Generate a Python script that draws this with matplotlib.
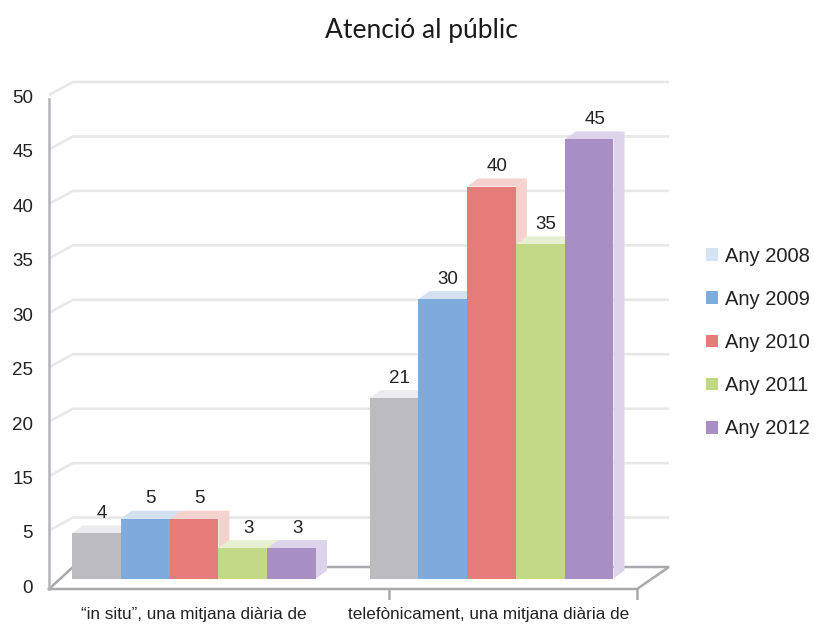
import matplotlib
matplotlib.use('Agg')
import matplotlib.pyplot as plt
import numpy as np
from matplotlib.patches import Patch

# ---------------- data ----------------
categories = ['\u201cin situ\u201d, una mitjana diària de',
              'telefònicament, una mitjana diària de']
years = ['Any 2008', 'Any 2009', 'Any 2010', 'Any 2011', 'Any 2012']
# bar heights as drawn (axis units)
in_situ_heights = [4.6, 6.1, 6.1, 3.1, 3.1]
telefon_heights = [18.4, 28.5, 40.0, 34.1, 44.8]
# value labels printed above the bars
in_situ_labels = [4, 5, 5, 3, 3]
telefon_labels = [21, 30, 40, 35, 45]
# y tick labels as printed (the original skips "10")
tick_labels = ['0', '5', '15', '20', '25', '30', '35', '40', '45', '50']

face_colors = ['#bcbcc0', '#7eaadc', '#e47c79', '#c4d985', '#a78fc4']
light_colors = ['#ececee', '#d3e1f3', '#f6d2ce', '#e7f0d4', '#ddd4eb']
legend_colors = ['#d6e3f4', '#7eaadc', '#e47c79', '#c4d985', '#a78fc4']

plt.rcParams['font.family'] = ['Liberation Sans', 'DejaVu Sans']
TXT = '#222222'

# ---------------- layout (pixels) ----------------
W, H = 814, 626
X0PX, XS = 194.0, 297.5      # px of group 0 centre, px per category unit
Y0PX, YS = 578.5, 9.8        # px of value 0, px per value unit
AX_L, AX_R, AX_T, AX_B = 40, 680, 70, 600

def px2x(px):
    return (px - X0PX) / XS

def px2y(py):
    return (Y0PX - py) / YS

fig = plt.figure(figsize=(W / 100, H / 100), dpi=100)
ax = fig.add_axes([AX_L / W, 1 - AX_B / H, (AX_R - AX_L) / W, (AX_B - AX_T) / H])
ax.set_xlim(px2x(AX_L), px2x(AX_R))
ax.set_ylim(px2y(AX_B), px2y(AX_T))
for s in ax.spines.values():
    s.set_visible(False)

# 3D frame geometry
FRONT_X, BACK_X, RIGHT_X = 49, 73, 669
GRID_DY = 6.5
FLOOR_FRONT_Y, FLOOR_BACK_Y, FLOOR_FRONT_R = 589, 567, 637

levels = np.linspace(0, 50, 10)
for v in levels[1:]:
    ymid = Y0PX - v * YS
    xs = [px2x(FRONT_X), px2x(BACK_X), px2x(RIGHT_X)]
    ys = [px2y(ymid + GRID_DY), px2y(ymid - GRID_DY), px2y(ymid - GRID_DY)]
    ax.plot(xs, ys, color='#e8e8e8', lw=1.9, zorder=1, solid_capstyle='butt')

# floor
fx = [FRONT_X, FLOOR_FRONT_R, RIGHT_X, BACK_X, FRONT_X]
fy = [FLOOR_FRONT_Y, FLOOR_FRONT_Y, FLOOR_BACK_Y, FLOOR_BACK_Y, FLOOR_FRONT_Y]
ax.plot([px2x(p) for p in fx], [px2y(p) for p in fy], color='#a9a9ad', lw=1.8,
        zorder=2, solid_joinstyle='miter')
# left wall edge
ax.plot([px2x(FRONT_X)] * 2, [px2y(99), px2y(FLOOR_FRONT_Y)], color='#b4b4b8',
        lw=1.8, zorder=2)
# category ticks below floor
cat_edges = [(FRONT_X + FLOOR_FRONT_R) / 2 + 45.5, FLOOR_FRONT_R]
for e in cat_edges:
    ax.plot([px2x(e)] * 2, [px2y(FLOOR_FRONT_Y), px2y(600)], color='#a9a9ad',
            lw=1.8, zorder=2)

# ---------------- bars ----------------
bw = 48.8 / XS
dx = 11 / XS
dy = 8 / YS
groups = [(in_situ_heights, in_situ_labels), (telefon_heights, telefon_labels)]
z = 3
for g, (heights, labels) in enumerate(groups):
    for j, (h, lab) in enumerate(zip(heights, labels)):
        x = g + (j - 2) * bw
        xl, xr = x - bw / 2, x + bw / 2
        ax.fill([xr, xr, xr + dx, xr + dx], [0, h, h + dy, dy],
                color=light_colors[j], lw=0, zorder=z)
        ax.fill([xl, xl + dx, xr + dx, xr], [h, h + dy, h + dy, h],
                color=light_colors[j], lw=0, zorder=z)
        ax.bar(x, h, width=bw, color=face_colors[j], lw=0, zorder=z + 0.5)
        ax.annotate(str(lab), (x + dx / 2, h + dy), xytext=(0, 12),
                    textcoords='offset pixels', ha='center', va='center',
                    fontsize=13.5, color=TXT, zorder=20)
        z += 1

# ---------------- axes text ----------------
ax.set_yticks(levels - 0.8)
ax.set_yticklabels(tick_labels, fontsize=13.5, color=TXT)
ax.tick_params(axis='y', length=0, pad=5)
ax.set_xticks([0, 0.99])
ax.set_xticklabels(categories, fontsize=12.3, color=TXT)
ax.tick_params(axis='x', length=0, pad=5)

fig.text(421 / W, 1 - 38 / H, 'Atenció al públic', ha='center', va='baseline',
         fontsize=19, color='#1a1a1a', family=['Lato', 'DejaVu Sans'])

handles = [Patch(facecolor=c, label=y) for c, y in zip(legend_colors, years)]
ax.legend(handles=handles, loc='center left',
          bbox_to_anchor=(706 / W, 1 - 342.5 / H), bbox_transform=fig.transFigure,
          frameon=False, fontsize=14.5, handlelength=0.6, handleheight=0.6,
          handletextpad=0.35, borderpad=0, borderaxespad=0, labelspacing=1.2,
          labelcolor=TXT)

fig.savefig('out.png', dpi=100)
